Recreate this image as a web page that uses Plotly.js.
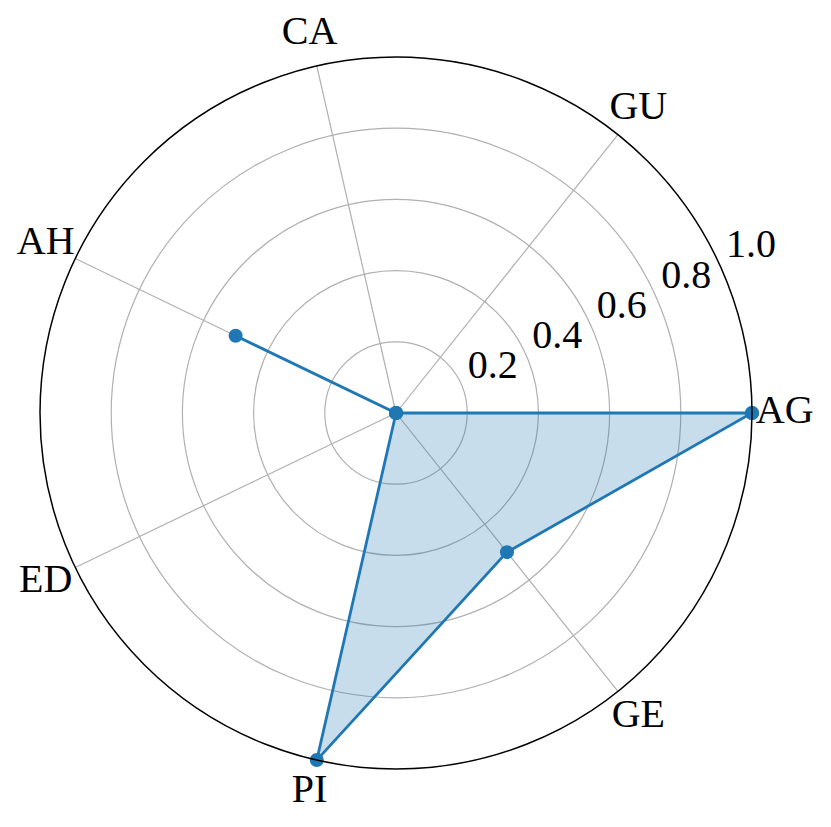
<!DOCTYPE html>
<html>
<head>
<meta charset="utf-8">
<script src="https://cdn.plot.ly/plotly-3.0.1.min.js"></script>
<style>html,body{margin:0;padding:0;background:#fff;}</style>
</head>
<body>
<div id="chart"></div>
<script>
var categories = ["AG", "GU", "CA", "AH", "ED", "PI", "GE"];
var values = [1.0, 0.0, 0.0, 0.5, 0.0, 1.0, 0.5];
var radialTicks = [0.2, 0.4, 0.6, 0.8, 1.0];
var radialTickLabels = ["0.2", "0.4", "0.6", "0.8", "1.0"];

var thetaClosed = categories.concat([categories[0]]);
var rClosed = values.concat([values[0]]);

var W = 831, H = 827;
var cx = 396, cy = 413, R = 356;     // centre and outer radius of the chart, px
var labelRange = 1.11;                // radial range of the overlay used for labels
var serifFont = "Liberation Serif";
var labelRadius = 1.092;
var radialLabelAngle = 25;
var radialLabelOffset = 0.1;

function domainFor(radiusPx) {
  return {
    x: [(cx - radiusPx) / W, (cx + radiusPx) / W],
    y: [(H - cy - radiusPx) / H, (H - cy + radiusPx) / H]
  };
}

var trace = {
  type: "scatterpolar",
  subplot: "polar",
  theta: thetaClosed,
  r: rClosed,
  mode: "lines+markers",
  fill: "toself",
  fillcolor: "rgba(31,119,180,0.25)",
  line: {color: "#1f77b4", width: 2.8},
  marker: {color: "#1f77b4", size: 14},
  hoverinfo: "none"
};

var catLabels = {
  type: "scatterpolar",
  subplot: "polar2",
  theta: categories.map(function (c, i) { return i * 360 / categories.length; }),
  r: categories.map(function () { return labelRadius; }),
  text: categories,
  mode: "text",
  textposition: "middle center",
  textfont: {family: serifFont, size: 40, color: "#000"},
  cliponaxis: false,
  hoverinfo: "none"
};

var tickLabels = {
  type: "scatterpolar",
  subplot: "polar2",
  theta: radialTicks.map(function () { return radialLabelAngle; }),
  r: radialTicks.map(function (v) { return v + radialLabelOffset; }),
  text: radialTickLabels,
  mode: "text",
  textposition: "middle center",
  textfont: {family: serifFont, size: 40, color: "#000"},
  cliponaxis: false,
  hoverinfo: "none"
};

var layout = {
  width: W,
  height: H,
  margin: {l: 0, r: 0, t: 0, b: 0},
  paper_bgcolor: "#fff",
  showlegend: false,
  font: {family: serifFont, size: 40, color: "#000"},
  polar: {
    bgcolor: "#fff",
    domain: domainFor(R),
    angularaxis: {
      type: "category",
      categoryorder: "array",
      categoryarray: categories,
      rotation: 0,
      direction: "counterclockwise",
      showline: true,
      linecolor: "#000",
      linewidth: 1.5,
      showgrid: true,
      gridcolor: "#b0b0b0",
      gridwidth: 1.2,
      ticks: "",
      showticklabels: false
    },
    radialaxis: {
      range: [0, 1],
      angle: 22.5,
      tickmode: "array",
      tickvals: radialTicks,
      showticklabels: false,
      showline: false,
      ticks: "",
      showgrid: true,
      gridcolor: "#b0b0b0",
      gridwidth: 1.2
    }
  },
  polar2: {
    bgcolor: "rgba(0,0,0,0)",
    domain: domainFor(R * labelRange),
    angularaxis: {
      type: "linear",
      thetaunit: "degrees",
      rotation: 0,
      direction: "counterclockwise",
      showline: false,
      showgrid: false,
      showticklabels: false,
      ticks: ""
    },
    radialaxis: {
      range: [0, labelRange],
      visible: false
    }
  }
};

Plotly.newPlot("chart", [trace, catLabels, tickLabels], layout, {displayModeBar: false, staticPlot: true});
</script>
</body>
</html>
